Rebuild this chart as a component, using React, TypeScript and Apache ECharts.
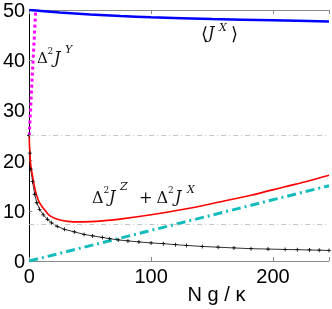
import React, { useEffect, useRef } from "react";
import * as echarts from "echarts";

const jxX = [0, 10, 25, 50, 75, 100, 150, 200, 246];
const jxY = [50, 49.8, 49.5, 49.1, 48.8, 48.55, 48.2, 47.95, 47.7];

const jyX = [0, 2.6, 5.3];
const jyY = [25, 37.5, 50];

const varX = [0, 0.3, 1.3, 2.7, 4.8, 7.5, 10, 12.9, 16, 20.9, 26, 31.6, 40, 50, 60, 73, 100, 129, 155, 182, 210, 230, 246];
const varY = [25, 22.4, 18.9, 17, 14.2, 12.1, 11, 10.1, 9.2, 8.5, 8.1, 7.9, 7.8, 7.85, 8.0, 8.3, 9.2, 10.4, 11.7, 13.1, 14.8, 16.0, 17.1];

const blkX = [0, 0.5, 1.3, 2.7, 4.5, 6.2, 8.5, 11.5, 15, 18.2, 23, 29, 37, 45, 52, 60, 66, 73, 81, 90, 100, 110, 120, 129, 142, 155, 168, 182, 196, 210, 220, 230, 238, 246];
const blkY = [25, 21.5, 18.3, 15.8, 13.3, 11.6, 10.3, 9.2, 8.3, 7.6, 6.9, 6.3, 5.8, 5.3, 5.0, 4.7, 4.45, 4.2, 4.0, 3.8, 3.6, 3.45, 3.25, 3.1, 2.9, 2.75, 2.6, 2.45, 2.38, 2.3, 2.25, 2.2, 2.15, 2.1];

const cyX = [0, 246];
const cyY = [0, 15];

const refLines = [25, 7.4];
const xTicks = [0, 100, 200];

const pairs = (xs: number[], ys: number[]) => xs.map((x, i) => [x, ys[i]]);

const SERIF = "'DejaVu Serif', 'Liberation Serif', serif";

function t(text: string, x: number, y: number, size: number, italic = false) {
  return {
    type: "text",
    x,
    y,
    style: {
      text,
      fontFamily: SERIF,
      fontSize: size,
      fontStyle: italic ? "italic" : "normal",
      fill: "#111",
      verticalAlign: "middle",
      align: "left",
    },
  };
}

export default function App() {
  const ref = useRef<HTMLDivElement>(null);
  useEffect(() => {
    const chart = echarts.init(ref.current!, null, { renderer: "svg" });
    const gray = "#8a8a8a";
    chart.setOption({
      animation: false,
      grid: { left: 26, right: 0, top: 7, bottom: 48 },
      xAxis: [
        {
          type: "value",
          min: 0,
          max: 246,
          interval: 100,
          axisLine: { show: true, lineStyle: { color: gray, width: 1 } },
          axisTick: { show: true, inside: true, length: 4, lineStyle: { color: gray } },
          splitLine: { show: false },
          axisLabel: {
            margin: 5,
            fontSize: 20,
            color: "#000",
            fontFamily: "'Liberation Sans', Arial, sans-serif",
            formatter: (v: number) => (xTicks.includes(v) ? String(v) : ""),
          },
        },
        {
          type: "value",
          position: "top",
          min: 0,
          max: 246,
          interval: 100,
          axisLine: { show: true, lineStyle: { color: gray, width: 1 } },
          axisTick: { show: true, inside: true, length: 4, lineStyle: { color: gray } },
          axisLabel: { show: false },
          splitLine: { show: false },
        },
      ],
      yAxis: {
        type: "value",
        min: 0,
        max: 50,
        interval: 10,
        axisLine: { show: true, lineStyle: { color: "#000", width: 1 } },
        axisTick: { show: true, inside: true, length: 3, lineStyle: { color: gray } },
        splitLine: { show: false },
        axisLabel: {
          margin: 4,
          fontSize: 20,
          color: "#000",
          fontFamily: "'Liberation Sans', Arial, sans-serif",
        },
      },
      series: [
        {
          type: "line",
          data: pairs(cyX, cyY),
          showSymbol: false,
          lineStyle: { color: "#12bcbc", width: 3, type: [9, 4, 2, 4] },
          markLine: {
            silent: true,
            symbol: ["none", "none"],
            label: { show: false },
            lineStyle: { color: "#c4c4c4", width: 1, type: [5, 3, 1, 3] },
            data: refLines.map((v) => ({ yAxis: v })),
          },
        },
        {
          type: "line",
          data: pairs(blkX, blkY),
          symbol: "path://M4,0H6V10H4ZM0,4H10V6H0Z",
          symbolSize: 4,
          showSymbol: true,
          itemStyle: { color: "#000" },
          lineStyle: { color: "#333", width: 1 },
        },
        {
          type: "line",
          data: pairs(varX, varY),
          showSymbol: false,
          smooth: 0.3,
          lineStyle: { color: "#ff0000", width: 1.6 },
        },
        {
          type: "line",
          data: pairs(jyX, jyY),
          showSymbol: false,
          lineStyle: { color: "#ff00ff", width: 3, type: [3, 3] },
        },
        {
          type: "line",
          data: pairs(jxX, jxY),
          showSymbol: false,
          smooth: 0.3,
          lineStyle: { color: "#0000ff", width: 2.5 },
        },
      ],
      graphic: [
        // Δ²J^Y
        t("Δ", 37, 58, 15),
        t("2", 47.5, 51, 9),
        t("J", 54, 57, 16, true),
        t("Y", 65, 49, 11, true),
        // ⟨J^X⟩
        t("⟨", 201, 33, 18),
        t("J", 208, 32, 16, true),
        t("X", 219, 27, 11, true),
        t("⟩", 231, 33, 18),
        // Δ²J^Z + Δ²J^X
        t("Δ", 92, 197, 16),
        t("2", 103.5, 189.5, 9),
        t("J", 109, 196, 16, true),
        t("Z", 120, 186, 11, true),
        t("+", 139, 197, 16),
        t("Δ", 156.5, 197, 16),
        t("2", 168, 189.5, 9),
        t("J", 175, 196, 16, true),
        t("X", 187, 189, 11, true),
        {
          type: "text",
          x: 216.5,
          y: 294,
          style: {
            text: "N g / κ",
            fontFamily: "'Liberation Sans', Arial, sans-serif",
            fontSize: 20,
            fill: "#000",
            align: "center",
            verticalAlign: "middle",
          },
        },
      ],
    });
    return () => chart.dispose();
  }, []);
  return (
    <div
      ref={ref}
      style={{ position: "fixed", left: 0, top: 0, width: 332, height: 309 }}
    />
  );
}
